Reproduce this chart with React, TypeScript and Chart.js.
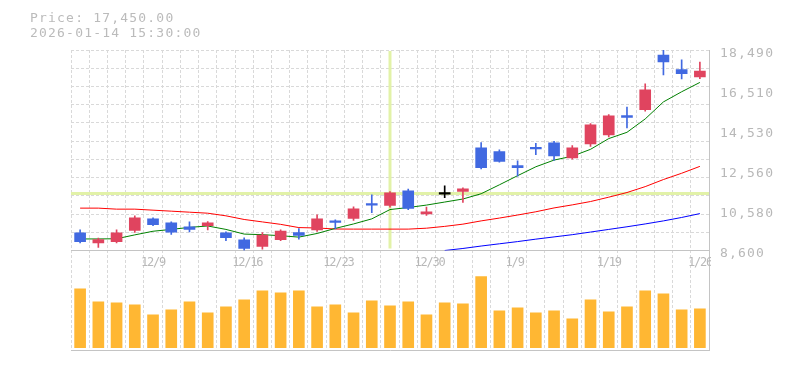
import React, { useEffect, useRef } from 'react';
import { Chart, registerables } from 'chart.js';

Chart.register(...registerables);

// ---------- data ----------
const dates = [
  '12/3', '12/4', '12/5', '12/8', '12/9', '12/10', '12/11', '12/12', '12/15', '12/16',
  '12/17', '12/18', '12/19', '12/22', '12/23', '12/24', '12/25', '12/26', '12/29', '12/30',
  '1/5', '1/6', '1/7', '1/8', '1/9', '1/13', '1/14', '1/15', '1/16', '1/19',
  '1/20', '1/21', '1/22', '1/23', '1/26',
];
const opens = [
  9470, 8980, 9040, 9590, 10160, 9970, 9770, 9830, 9470, 9130,
  8800, 9140, 9490, 9620, 10030, 10180, 10920, 10820, 11540, 10410,
  11380, 11510, 13660, 13480, 12790, 13680, 13910, 13170, 13860, 14300,
  15250, 15550, 18240, 17520, 17160,
];
const highs = [
  9620, 9210, 9620, 10310, 10210, 10010, 10010, 10030, 9520, 9230,
  9490, 9620, 9680, 10360, 10110, 10750, 11350, 11510, 11630, 10740,
  11790, 11690, 13920, 13560, 13020, 13890, 13990, 13770, 14860, 15300,
  15680, 16820, 18490, 18010, 17900,
];
const lows = [
  8980, 8750, 8980, 9490, 9820, 9390, 9520, 9610, 9090, 8610,
  8670, 9090, 9160, 9540, 9660, 10080, 10470, 10740, 10610, 10330,
  11210, 10970, 12630, 12960, 12270, 13330, 13040, 13100, 13730, 14200,
  14650, 15470, 17260, 17060, 17080,
];
const closes = [
  9040, 9140, 9470, 10210, 9880, 9510, 9640, 9970, 9230, 8700,
  9360, 9560, 9340, 10160, 9990, 10660, 10840, 11440, 10670, 10510,
  11380, 11640, 12690, 12990, 12690, 13610, 13270, 13660, 14800, 15240,
  15170, 16520, 17900, 17320, 17450,
];
const volumes = [
  587, 457, 447, 427, 327, 377, 457, 347, 407, 477,
  567, 547, 567, 407, 427, 347, 467, 417, 457, 327,
  447, 437, 710, 367, 397, 347, 367, 287, 477, 357,
  407, 567, 537, 377, 387,
];
const ma5 = [
  9170, 9170, 9180, 9370, 9550, 9640, 9740, 9810, 9640, 9410,
  9380, 9330, 9260, 9440, 9690, 9910, 10160, 10620, 10720, 10840,
  10990, 11140, 11400, 11840, 12290, 12730, 13060, 13250, 13590, 14120,
  14430, 15090, 15930, 16430, 16890,
];
const ma25 = [
  10690, 10690, 10640, 10640, 10590, 10540, 10490, 10440, 10310, 10130,
  10010, 9890, 9730, 9710, 9660, 9655, 9655, 9655, 9655, 9700,
  9790, 9900, 10060, 10200, 10350, 10510, 10700, 10850, 11015, 11230,
  11460, 11750, 12100, 12410, 12750,
];
const ma75 = [
  null, null, null, null, null, null, null, null, null, null,
  null, null, null, null, null, null, null, null, null, null,
  8600, 8700, 8820, 8930, 9040, 9160, 9270, 9380, 9510, 9640,
  9770, 9910, 10060, 10230, 10420,
];
const priceTicks = [8600, 10580, 12560, 14530, 16510, 18490];
const dateTicks = ['12/9', '12/16', '12/23', '12/30', '1/9', '1/19', '1/26'];
const crosshairIndex = 17;
const crosshairPrice = 11410;
const lastPrice = '17,450.00';
const lastTime = '2026-01-14 15:30:00';

// ---------- styles ----------
const PRICE_MIN = 8600;
const PRICE_MAX = 18490;
const GRID_DIV = 11;
const VOL_MIN = -23;
const VOL_MAX = 970;
const UP = '#e0445f';
const DOWN = '#4169e1';
const DOJI = '#000000';
const GRID = '#d9d9d9';
const AXIS = '#c4c4c4';
const TEXT = '#b8b8b8';
const VOL = '#ffb733';
const CROSS = '#e2f2a8';
const MONO = '"DejaVu Sans Mono", monospace';

const gridValues = Array.from({ length: GRID_DIV + 1 }, (_, k) => PRICE_MIN + ((PRICE_MAX - PRICE_MIN) * k) / GRID_DIV);
const mergedTicks = [
  ...priceTicks,
  ...gridValues.filter((g) => !priceTicks.some((p) => Math.abs(p - g) < 1)),
].sort((a, b) => a - b);

const candleColors = closes.map((c, i) => (c > opens[i] ? UP : c < opens[i] ? DOWN : DOJI));

const spacingPlugin = {
  id: 'spacing',
  beforeDraw(chart: any) {
    chart.ctx.letterSpacing = '1.2px';
  },
  afterDraw(chart: any) {
    chart.ctx.letterSpacing = '0px';
  },
};

const crosshairPlugin = {
  id: 'crosshair',
  beforeDatasetsDraw(chart: any) {
    const { ctx, chartArea } = chart;
    const x = chart.scales.x;
    const y = chart.scales.y;
    ctx.save();
    ctx.strokeStyle = CROSS;
    ctx.lineWidth = 3;
    const px = x.getPixelForValue(crosshairIndex);
    ctx.beginPath();
    ctx.moveTo(px, y.top + 1);
    ctx.lineTo(px, y.bottom - 2);
    ctx.stroke();
    const py = y.getPixelForValue(crosshairPrice);
    ctx.beginPath();
    ctx.moveTo(chartArea.left, py);
    ctx.lineTo(chartArea.right, py);
    ctx.stroke();
    ctx.restore();
  },
};

const dateLabelPlugin = {
  id: 'dateLabels',
  afterDatasetsDraw(chart: any) {
    const { ctx, chartArea } = chart;
    const x = chart.scales.x;
    const yv = chart.scales.yv;
    ctx.save();
    ctx.beginPath();
    ctx.rect(chartArea.left, chartArea.top, chartArea.right + 2 - chartArea.left, chartArea.bottom - chartArea.top);
    ctx.clip();
    ctx.font = '12px ' + MONO;
    ctx.letterSpacing = '-1.2px';
    ctx.fillStyle = TEXT;
    ctx.textAlign = 'left';
    ctx.textBaseline = 'alphabetic';
    dateTicks.forEach((d) => {
      const i = dates.indexOf(d);
      if (i < 0) return;
      ctx.fillText(d, x.getPixelForValue(i) - 12, yv.top + 15.5);
    });
    ctx.restore();
  },
};

export default function App() {
  const ref = useRef<HTMLCanvasElement>(null);

  useEffect(() => {
    if (!ref.current) return;
    const chart = new Chart(ref.current, {
      type: 'bar',
      data: {
        labels: dates,
        datasets: [
          {
            type: 'bar',
            data: opens.map((o, i) => [o, closes[i]]),
            backgroundColor: candleColors,
            barThickness: 11,
            minBarLength: 1.5,
            grouped: false,
            borderWidth: 0,
            yAxisID: 'y',
            order: 0,
          } as any,
          {
            type: 'bar',
            data: lows.map((l, i) => [l, highs[i]]),
            backgroundColor: candleColors,
            barThickness: 1,
            grouped: false,
            borderWidth: 0,
            yAxisID: 'y',
            order: 1,
          } as any,
          {
            type: 'line',
            data: ma5,
            borderColor: '#008000',
            borderWidth: 1,
            pointRadius: 0,
            tension: 0,
            yAxisID: 'y',
            order: 2,
          } as any,
          {
            type: 'line',
            data: ma25,
            borderColor: '#ff0000',
            borderWidth: 1,
            pointRadius: 0,
            tension: 0,
            yAxisID: 'y',
            order: 2,
          } as any,
          {
            type: 'line',
            data: ma75,
            borderColor: '#0000ff',
            borderWidth: 1,
            pointRadius: 0,
            tension: 0,
            yAxisID: 'y',
            order: 2,
          } as any,
          {
            type: 'bar',
            data: volumes,
            backgroundColor: VOL,
            barThickness: 11,
            grouped: false,
            borderWidth: 0,
            yAxisID: 'yv',
            order: 3,
          } as any,
        ],
      },
      options: {
        responsive: false,
        maintainAspectRatio: false,
        animation: false,
        devicePixelRatio: 1,
        layout: { padding: { left: 71, right: 0, top: 50, bottom: 20 } },
        plugins: {
          legend: { display: false },
          tooltip: { enabled: false },
          title: { display: false },
        },
        scales: {
          x: {
            type: 'category',
            position: 'bottom',
            offset: true,
            grid: { offset: true, color: GRID, drawTicks: false },
            border: { display: true, color: AXIS, dash: [3, 2] },
            ticks: { display: false },
          },
          y: {
            type: 'linear',
            position: 'right',
            stack: 'panes',
            stackWeight: 200.5,
            weight: 1,
            min: PRICE_MIN,
            max: PRICE_MAX,
            afterBuildTicks: (scale: any) => {
              scale.ticks = mergedTicks.map((v) => ({ value: v }));
            },
            afterFit: (scale: any) => {
              scale.width = 76;
            },
            ticks: {
              autoSkip: false,
              padding: 11,
              labelOffset: 3.5,
              color: TEXT,
              font: { family: MONO, size: 13 },
              callback: (value: any) =>
                priceTicks.some((p) => Math.abs(p - value) < 0.5) ? Number(value).toLocaleString('en-US') : '',
            },
            grid: {
              drawTicks: false,
              color: (c: any) => {
                const v = c.tick ? c.tick.value : null;
                if (v == null) return 'rgba(0,0,0,0)';
                const isGrid = gridValues.some((g) => Math.abs(g - v) < 1);
                if (!isGrid || Math.abs(v - PRICE_MIN) < 1) return 'rgba(0,0,0,0)';
                return GRID;
              },
            },
            border: { display: true, color: AXIS, dash: [3, 2] },
          },
          yv: {
            type: 'linear',
            position: 'right',
            stack: 'panes',
            stackWeight: 99.5,
            weight: 2,
            min: VOL_MIN,
            max: VOL_MAX,
            afterBuildTicks: (scale: any) => {
              scale.ticks = [{ value: VOL_MAX }];
            },
            afterFit: (scale: any) => {
              scale.width = 76;
            },
            ticks: { display: false },
            grid: { drawTicks: false, color: AXIS },
            border: { display: true, color: AXIS },
          },
        },
      } as any,
      plugins: [spacingPlugin, crosshairPlugin, dateLabelPlugin],
    });
    return () => chart.destroy();
  }, []);

  return (
    <div style={{ position: 'absolute', left: 0, top: 0, width: 785, height: 370, background: '#fff' }}>
      <canvas
        ref={ref}
        width={785}
        height={370}
        style={{ position: 'absolute', left: 0, top: 0, width: 785, height: 370 }}
      />
      <div
        style={{
          position: 'absolute',
          left: 30,
          top: 11,
          fontFamily: MONO,
          fontSize: 13,
          lineHeight: '14.6px',
          letterSpacing: '1.2px',
          color: '#bbbbbb',
          whiteSpace: 'pre',
        }}
      >
        {'Price: ' + lastPrice}
        <br />
        {lastTime}
      </div>
    </div>
  );
}
